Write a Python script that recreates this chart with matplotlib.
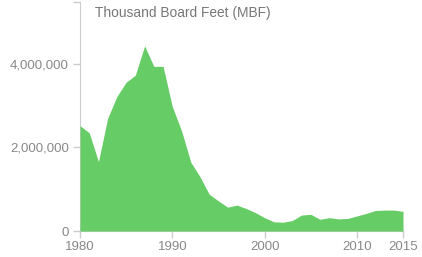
import numpy as np
import matplotlib.pyplot as plt

years = list(range(1980, 2016))
mbf = [2520000, 2350000, 1660000, 2700000, 3220000, 3560000, 3730000, 4430000,
       3940000, 3940000, 2980000, 2400000, 1650000, 1300000, 880000, 720000,
       570000, 620000, 540000, 440000, 320000, 220000, 210000, 250000,
       380000, 400000, 280000, 320000, 290000, 300000, 360000, 420000,
       490000, 500000, 500000, 470000]
xticks = [1980, 1990, 2000, 2010, 2015]
yticks = [0, 2000000, 4000000]

plt.rcParams['font.family'] = ['Liberation Sans', 'DejaVu Sans']

fig = plt.figure(figsize=(4.22, 2.57), dpi=100)
ax = fig.add_axes([80 / 422, 26 / 257, 323 / 422, 229 / 257])

ax.fill_between(years, 0, mbf, color='#66cc66', lw=0, zorder=3)

ax.set_xlim(1980, 2015)
ax.set_ylim(0, 5480000)

for s in ['top', 'right']:
    ax.spines[s].set_visible(False)
ax.spines['left'].set_color('#cccccc')
ax.spines['bottom'].set_color('#cccccc')
ax.spines['left'].set_zorder(1)
ax.spines['bottom'].set_zorder(1)

ax.set_xticks(xticks)
ax.set_xticklabels([str(x) for x in xticks])
ax.set_yticks(yticks + [5480000])
ax.set_yticklabels(['{:,}'.format(v) for v in yticks] + [''])
ax.tick_params(axis='both', colors='#cccccc', labelcolor='#888888',
               labelsize=9.5, length=5, width=1)
ax.tick_params(axis='y', pad=3)
ax.tick_params(axis='x', pad=2)

fig.text(95 / 422, 1 - 13.5 / 257, 'Thousand Board Feet (MBF)', color='#777777',
         fontsize=9.9, va='center', ha='left')

fig.savefig('out.png', dpi=100)
